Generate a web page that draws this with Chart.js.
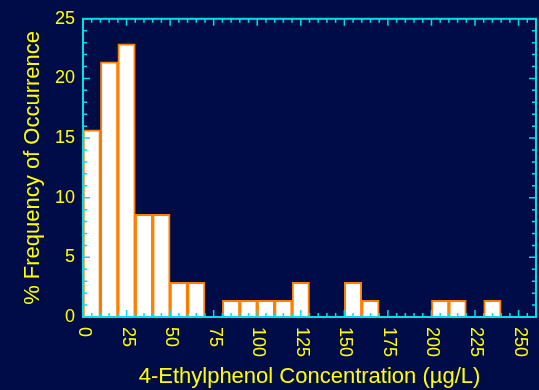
<!DOCTYPE html>
<html>
<head>
<meta charset="utf-8">
<script src="https://cdn.jsdelivr.net/npm/chart.js@4"></script>
<style>
  body { margin: 0; background: #000c48; }
  #wrap { width: 539px; height: 390px; }
</style>
</head>
<body>
<div id="wrap"><canvas id="histChart"></canvas></div>
<script>
// bin centres (10 µg/L wide bins) and % frequency
const binCenters = [5, 15, 25, 35, 45, 55, 65, 75, 85, 95, 105, 115, 125, 135, 145, 155, 165, 175, 185, 195, 205, 215, 225, 235];
const frequency = [15.7, 21.4, 22.9, 8.6, 8.6, 2.9, 2.9, null, 1.4, 1.4, 1.4, 1.4, 2.9, null, null, 2.9, 1.4, null, null, null, 1.4, 1.4, null, 1.4];
const xTickLabels = [0, 25, 50, 75, 100, 125, 150, 175, 200, 225, 250];
const yTickLabels = [0, 5, 10, 15, 20, 25];

const cyan = "#00e0e8";
const yellow = "#ffff00";
const font = "Liberation Sans, Arial, sans-serif";

// frame, inward ticks and rotated x labels
const framePlugin = {
  id: "frame",
  afterDatasetsDraw(chart) {
    const { ctx, chartArea: a, scales } = chart;
    const x = scales.x, y = scales.y;
    ctx.save();
    ctx.strokeStyle = cyan;
    ctx.lineWidth = 1.5;
    ctx.beginPath();
    for (let v = 0; v <= 260; v += 5) {
      const px = x.getPixelForValue(v);
      const len = v % 25 === 0 ? 7 : 4;
      ctx.moveTo(px, a.bottom);
      ctx.lineTo(px, a.bottom - len);
      ctx.moveTo(px, a.top);
      ctx.lineTo(px, a.top + len);
    }
    for (let v = 0; v <= 25; v += 1) {
      const py = y.getPixelForValue(v);
      const len = v % 5 === 0 ? 7 : 4;
      ctx.moveTo(a.left, py);
      ctx.lineTo(a.left + len, py);
      ctx.moveTo(a.right, py);
      ctx.lineTo(a.right - len, py);
    }
    ctx.stroke();
    ctx.lineWidth = 2;
    ctx.strokeRect(a.left, a.top, a.right - a.left, a.bottom - a.top);

    ctx.fillStyle = yellow;
    ctx.font = "18px " + font;
    ctx.textAlign = "left";
    ctx.textBaseline = "middle";
    xTickLabels.forEach(function (v) {
      ctx.save();
      ctx.translate(x.getPixelForValue(v) + 1, a.bottom + 10);
      ctx.rotate(Math.PI / 2);
      ctx.fillText(String(v), 0, 0);
      ctx.restore();
    });
    ctx.restore();
  }
};

const ctx = document.getElementById("histChart").getContext("2d");
const myChart = new Chart(ctx, {
  type: "bar",
  data: {
    datasets: [
      {
        data: binCenters.map((c, i) => ({ x: c, y: frequency[i] })),
        backgroundColor: "#ffffff",
        borderColor: "#ff8000",
        borderWidth: 2,
        borderSkipped: "bottom",
        barPercentage: 1,
        categoryPercentage: 1,
      },
    ],
  },
  options: {
    responsive: true,
    maintainAspectRatio: false,
    animation: false,
    layout: { padding: { top: 16, right: 3, left: 0, bottom: 0 } },
    plugins: { legend: { display: false }, tooltip: { enabled: false } },
    scales: {
      x: {
        type: "linear",
        offset: false,
        min: 0,
        max: 260,
        grid: { display: false, offset: false },
        border: { display: false },
        ticks: { display: false },
        afterFit: function (scale) { scale.height = 73; },
        title: {
          display: true,
          text: "4-Ethylphenol Concentration (µg/L)",
          color: yellow,
          font: { family: font, size: 22 },
          padding: { top: 0, bottom: 0 },
        },
      },
      y: {
        min: 0,
        max: 25,
        grid: { display: false, drawTicks: false },
        border: { display: false },
        afterFit: function (scale) { scale.width = 83; },
        afterBuildTicks: function (scale) {
          scale.ticks = yTickLabels.map(v => ({ value: v }));
        },
        ticks: {
          color: yellow,
          font: { family: font, size: 18 },
          padding: 8,
        },
        title: {
          display: true,
          text: "% Frequency of Occurrence",
          color: yellow,
          font: { family: font, size: 22 },
          padding: { top: 20, bottom: 0 },
        },
      },
    },
  },
  plugins: [framePlugin],
});
</script>
</body>
</html>
